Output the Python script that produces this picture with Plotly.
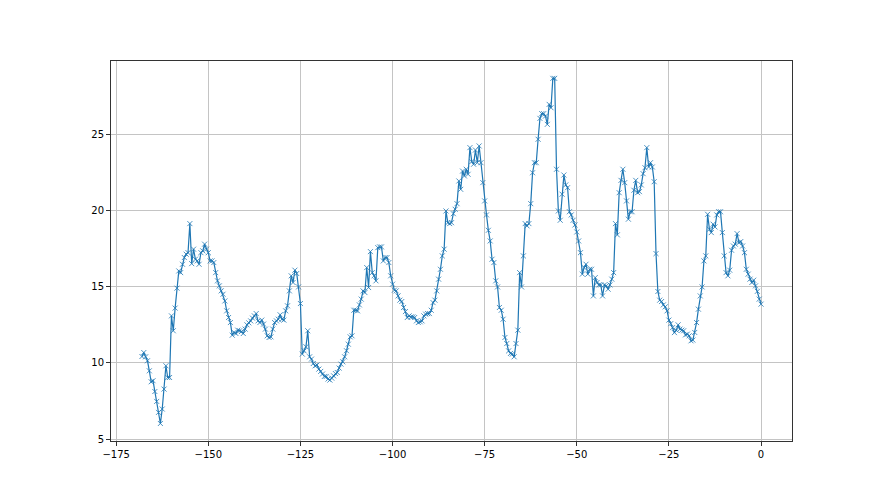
import numpy as np
import plotly.graph_objects as go

# sample positions: one reading every half unit from -168 to 0
x_first, x_last, x_step = -168, 0, 0.5

# readings, split into stretches of the series
seg_1 = [10.42, 10.68, 10.40, 10.14, 9.48, 8.76, 8.83, 8.12, 7.47, 6.75,
         6.02, 6.97, 8.28, 9.81, 9.04, 9.04, 13.09, 12.11, 13.60, 14.91,
         16.04, 15.93, 16.48, 16.92, 17.14, 17.24, 19.15, 16.52, 17.47, 16.81,
         16.70, 16.48, 17.24, 17.36, 17.80, 17.47, 17.24, 16.70, 16.70, 16.59,
         15.93, 15.39, 15.06, 14.73, 14.51, 14.07, 13.42, 12.98, 12.65, 11.82,
         12.00, 11.93, 12.15, 12.11, 12.06, 11.93, 12.22, 12.50, 12.63, 12.76]
seg_2 = [12.94, 13.09, 13.24, 12.76, 12.65, 12.81, 12.55, 12.22, 11.78, 11.67,
         11.71, 12.22, 12.65, 12.76, 12.87, 13.16, 12.87, 12.81, 13.42, 13.75,
         14.73, 15.72, 15.28, 16.09, 15.87, 14.99, 13.90, 10.58, 10.79, 11.06,
         12.11, 10.40, 10.25, 9.96, 9.81, 9.86, 9.59, 9.44, 9.27, 9.11,
         9.11, 8.94, 8.87, 9.00, 9.15, 9.30, 9.37, 9.66, 9.92, 10.07,
         10.40, 10.80, 11.23, 11.71, 11.78, 13.46, 13.46, 13.42, 13.81, 14.19,
         14.73, 14.62, 16.26, 14.95, 17.31, 15.93, 15.72, 15.39, 17.57, 17.62,
         17.62]
seg_3 = [16.70, 16.92, 16.92, 16.59, 15.72, 15.17, 14.78, 14.73, 14.40, 14.12,
         14.03, 13.64, 13.37, 12.98, 13.09, 13.02, 13.02, 12.98, 12.76, 12.65,
         12.70, 12.76, 13.09, 13.20, 13.24, 13.24, 13.46, 13.96, 14.12, 14.73,
         15.50, 16.15, 17.03, 17.47, 19.98, 19.21, 19.15, 19.21, 19.80, 20.09,
         20.46, 21.95, 21.40, 22.60, 22.28, 22.72, 22.39, 24.14, 23.22, 23.05,
         23.98, 23.15, 24.25, 23.15, 21.84, 20.64, 19.72, 18.71, 18.01, 16.81,
         16.59, 15.39, 14.99, 13.64]
seg_4 = [13.46, 12.87, 11.67, 11.27, 10.79, 10.62, 10.58, 10.40, 11.27, 12.15,
         15.93, 14.99, 17.03, 19.15, 19.00, 19.15, 20.46, 22.49, 23.15, 23.15,
         24.69, 26.06, 26.37, 26.37, 26.21, 25.67, 26.98, 26.76, 28.69, 28.69,
         22.72, 19.98, 19.37, 21.08, 22.34, 21.69, 21.51, 19.93, 19.72, 19.37,
         19.06, 18.60, 18.01, 17.24, 15.83, 16.26, 16.48, 15.83, 16.15, 16.15,
         14.40, 15.60, 15.28, 15.12, 15.12, 14.40, 15.12, 15.06, 14.84, 15.12,
         15.50, 15.93, 19.15, 18.41, 21.18, 21.99, 22.72, 21.84, 20.64, 19.44,
         19.93, 19.93, 21.34, 21.99, 21.18, 21.25, 21.69, 22.43, 22.82, 24.14,
         22.87, 23.15, 22.87, 21.90, 17.18, 14.69, 14.12, 14.03, 13.81, 13.68,
         13.42, 12.81, 12.58, 12.32, 11.99, 12.15, 12.50, 12.22, 12.15, 12.11,
         11.84, 11.89, 11.78]
seg_5 = [11.45, 11.50, 12.00, 12.65, 13.53, 14.40, 14.99, 16.70, 17.03, 19.76,
         18.78, 18.56, 19.11, 18.93, 19.72, 19.93, 19.93, 18.56, 17.03, 15.93,
         15.72, 16.09, 17.40, 17.68, 17.80, 18.49, 17.90, 17.97, 17.68, 17.24,
         16.15, 15.83, 15.50, 15.28, 15.43, 15.06, 14.70, 14.19, 13.86]

y = seg_1 + seg_2 + seg_3 + seg_4 + seg_5
x = np.arange(x_first, x_last + x_step / 2, x_step)[:len(y)]

x_ticks = [-175, -150, -125, -100, -75, -50, -25, 0]
y_ticks = [5, 10, 15, 20, 25]

blue = '#1f77b4'

fig = go.Figure(go.Scatter(
    x=x, y=y, mode='lines+markers',
    line=dict(color=blue, width=1.2),
    marker=dict(symbol='x-thin', size=5, line=dict(width=0.8, color=blue)),
    showlegend=False
))

# mpl-ish axes: dark frame, outside ticks, light grid
axis_style = dict(
    showgrid=True, gridcolor='#c4c4c4', gridwidth=1, zeroline=False,
    showline=True, linecolor='#333333', linewidth=1, mirror=True,
    ticks='outside', ticklen=4, tickwidth=1, tickcolor='#333333',
    tickfont=dict(family='DejaVu Sans', size=10, color='black')
)

# page body adds ~8px offset, so margins are trimmed on the left/top
fig.update_layout(
    width=880, height=495,
    margin=dict(l=103, r=96, t=53, b=62),
    plot_bgcolor='white', paper_bgcolor='white',
    xaxis=dict(range=[-176.4, 8.4], tickvals=x_ticks, **axis_style),
    yaxis=dict(range=[4.87, 29.83], tickvals=y_ticks, **axis_style),
)

fig.write_html("out.html")
